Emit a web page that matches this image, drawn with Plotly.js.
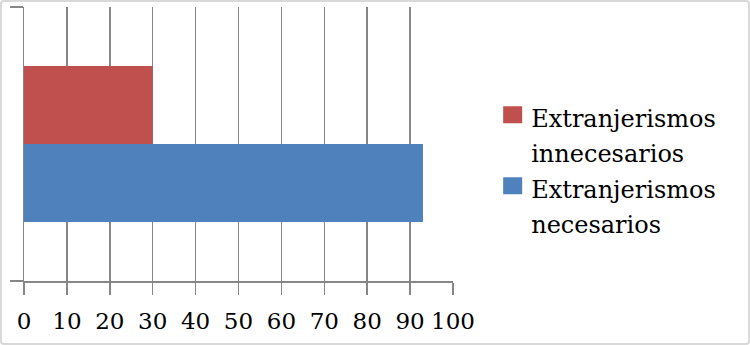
<!DOCTYPE html>
<html><head><meta charset="utf-8">
<script src="https://cdn.plot.ly/plotly-3.0.1.min.js"></script>
<style>
body{margin:0;padding:0;background:#fff;}
#wrap{position:relative;width:750px;height:345px;}
#frame{position:absolute;left:0;top:0;width:746px;height:341px;border:2px solid #d9d9d9;border-radius:4px;pointer-events:none;}
</style></head>
<body>
<div id="wrap"><div id="chart" style="width:750px;height:345px;"></div><div id="frame"></div></div>
<script>
var category = [0];
var seriesNames = ["Extranjerismos<br>necesarios", "Extranjerismos<br>innecesarios"];
var necesarios = [93];
var innecesarios = [30];
var tickValues = [0,10,20,30,40,50,60,70,80,90,100];
var gridColor = "#868686";
var fontFamily = "DejaVu Serif, serif";

var traces = [
  {type:"bar", orientation:"h", y:category, x:necesarios, name:seriesNames[0], marker:{color:"#4f81bd"}},
  {type:"bar", orientation:"h", y:category, x:innecesarios, name:seriesNames[1], marker:{color:"#c0504d"}}
];
var layout = {
  width:750, height:345,
  margin:{l:24, r:297, t:7, b:64, pad:0},
  paper_bgcolor:"#fff", plot_bgcolor:"#fff",
  barmode:"group", bargap:0.43,
  font:{family:fontFamily, size:24, color:"#000"},
  showlegend:true,
  legend:{x:1.089, y:0.678, xanchor:"left", yanchor:"top", traceorder:"reversed", valign:"top",
          font:{family:fontFamily, size:24, color:"#000"}, itemwidth:30, tracegroupgap:0, bgcolor:"rgba(0,0,0,0)"},
  xaxis:{range:[0,100], tickvals:tickValues, ticktext:tickValues.map(String), showgrid:true, gridcolor:gridColor, gridwidth:1.5,
         zeroline:false, showline:true, linecolor:gridColor, linewidth:1.5, ticks:"outside", ticklen:12, tickwidth:1.5, tickcolor:gridColor,
         ticklabelstandoff:7, tickfont:{family:fontFamily, size:23}, fixedrange:true},
  yaxis:{range:[-0.5,0.5], tickvals:[-0.5,0.5], showticklabels:false, showgrid:false, zeroline:false, showline:true,
         linecolor:gridColor, linewidth:1.5, ticks:"outside", ticklen:13, tickwidth:1.5, tickcolor:gridColor, fixedrange:true}
};
Plotly.newPlot("chart", traces, layout, {staticPlot:true, displayModeBar:false}).then(function(gd){
  gd.querySelectorAll(".legendpoints path").forEach(function(p){
    p.setAttribute("d","M12,-11H31V6H12Z"); p.removeAttribute("transform"); p.style.strokeWidth="0";
  });
  gd.querySelectorAll(".legendtext tspan.line").forEach(function(t, i){
    if (t.getAttribute("dy") && t.getAttribute("dy") !== "0em") t.setAttribute("dy","35px");
  });
  var items = gd.querySelectorAll(".legend .traces");
  if (items.length === 2) {
    var m = /translate\(([-\d.]+),\s*([-\d.]+)\)/.exec(items[0].getAttribute("transform"));
    if (m) items[1].setAttribute("transform","translate(" + m[1] + "," + (parseFloat(m[2]) + 71) + ")");
  }
});
</script>
</body></html>
